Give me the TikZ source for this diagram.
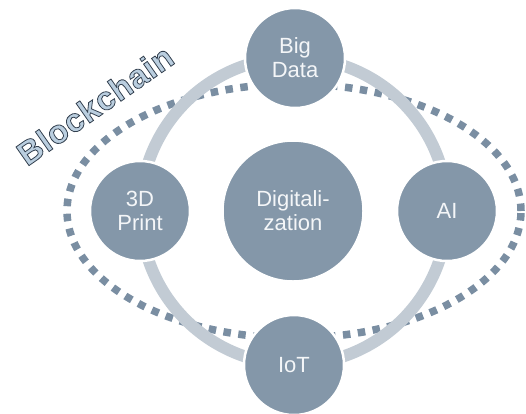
\documentclass[tikz,border=0pt]{standalone}
\usepackage{fontspec}
\setmainfont{Liberation Sans}
\newfontfamily\chainfont[LetterSpace=2]{Liberation Sans Bold}

\definecolor{nodefill}{HTML}{8497A9}
\definecolor{ringgrey}{HTML}{C2CBD4}
\definecolor{dotblue}{HTML}{7A8EA2}
\definecolor{textwhite}{HTML}{F4F6F8}
\definecolor{chainfill}{HTML}{BACEDF}

% text filled with the current colour and stroked with a dark edge
\newcommand{\edgedtext}[1]{%
  \special{pdf:literal direct 2 Tr 0.8 w 0.20 0.25 0.31 RG}#1%
  \special{pdf:literal direct 0 Tr}}

\tikzset{
  topic/.style={circle, fill=nodefill, draw=white, line width=2.5pt,
    minimum size=100pt, inner sep=0pt, align=center, text=textwhite,
    font=\fontsize{22}{24}\selectfont},
  hub/.style={topic, minimum size=141pt},
  chainring/.style={draw=dotblue, line width=7.5pt, dash pattern=on 7.5pt off 7.5pt},
  cycle/.style={draw=ringgrey, line width=12pt}
}

\begin{document}
\begin{tikzpicture}[x=1pt, y=-1pt]
  \useasboundingbox (0,0) rectangle (526,413);

  % outer blockchain loop
  \draw[chainring] (294,211) ellipse [x radius=227pt, y radius=127pt];

  % cycle linking the four technologies
  \draw[cycle] (294,211) circle [radius=153.5pt];

  % technologies
  \node[topic] (bigdata) at (295,58)  {Big\\Data};
  \node[topic] (ai)      at (447,211) {AI};
  \node[topic] (iot)     at (294,365) {IoT};
  \node[topic] (print)   at (140,211) {3D\\Print};
  \node[hub]   (digital) at (293,211) {Digitali-\\zation};

  % label of the outer loop
  \node[rotate=35, inner sep=0pt, text=chainfill,
        font=\chainfont\fontsize{33}{33}\selectfont] (chain) at (95,105)
    {\edgedtext{Blockchain}};
\end{tikzpicture}
\end{document}
